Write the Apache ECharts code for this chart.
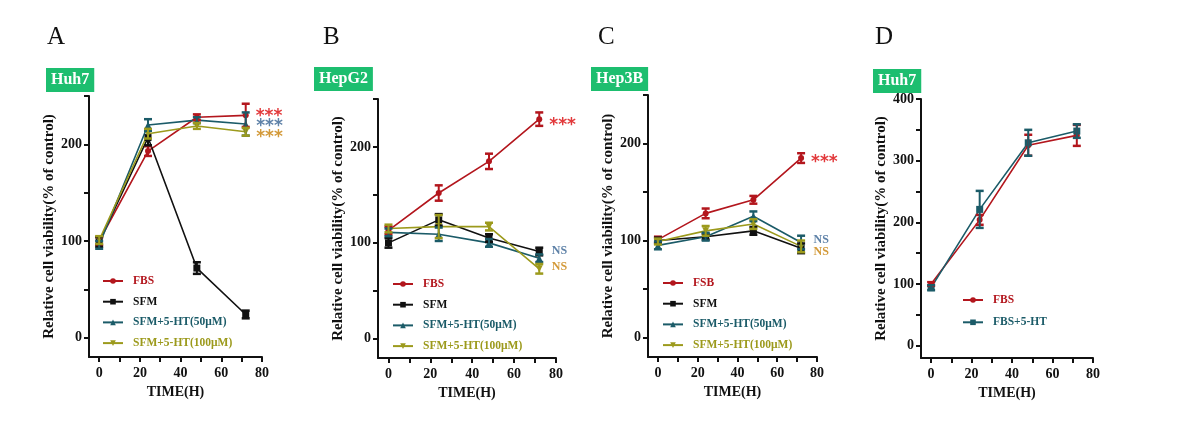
<!DOCTYPE html>
<html>
<head>
<meta charset="utf-8">
<script src="https://cdn.jsdelivr.net/npm/echarts@6/dist/echarts.min.js"></script>
<style>
html,body{margin:0;padding:0;background:#fff;}
#c{width:1200px;height:436px;}
</style>
</head>
<body>
<div id="c"></div>
<script>
// ---- data ----
const times = [0, 24, 48, 72];

// Panel A (Huh7)
const A_FBS = [100, 193, 228, 230];
const A_FBS_err = [4, 5, 3, 12];
const A_SFM = [99, 207, 72, 24];
const A_SFM_err = [5, 8, 6, 4];
const A_HT50 = [96, 220, 225, 221];
const A_HT50_err = [4, 6, 3, 12];
const A_HT100 = [101, 211, 219, 213];
const A_HT100_err = [4, 5, 3, 4];

// Panel B (HepG2)
const B_FBS = [113, 152, 185, 229];
const B_FBS_err = [4, 8, 8, 7];
const B_SFM = [100, 124, 105, 91];
const B_SFM_err = [5, 6, 4, 4];
const B_HT50 = [111, 109, 100, 84];
const B_HT50_err = [4, 7, 4, 4];
const B_HT100 = [115, 117, 117, 73];
const B_HT100_err = [4, 12, 4, 5];

// Panel C (Hep3B)
const C_FSB = [101, 128, 142, 185];
const C_FSB_err = [3, 5, 4, 5];
const C_SFM = [100, 104, 110, 92];
const C_SFM_err = [3, 3, 4, 5];
const C_HT50 = [95, 104, 125, 98];
const C_HT50_err = [4, 4, 5, 7];
const C_HT100 = [99, 110, 117, 94];
const C_HT100_err = [3, 5, 5, 6];

// Panel D (Huh7)
const D_FBS = [100, 204, 325, 341];
const D_FBS_err = [3, 8, 17, 17];
const D_HT = [94, 221, 329, 348];
const D_HT_err = [4, 30, 21, 11];

// ticks
const xTickVals = [0, 10, 20, 30, 40, 50, 60, 70, 80];
const xLabelVals = [0, 20, 40, 60, 80];
const yTickVals250 = [0, 50, 100, 150, 200, 250];
const yLabelVals250 = [0, 100, 200];
const yTickVals400 = [0, 50, 100, 150, 200, 250, 300, 350, 400];
const yLabelVals400 = [0, 100, 200, 300, 400];

const panelLetters = ['A', 'B', 'C', 'D'];
const cellNames = ['Huh7', 'HepG2', 'Hep3B', 'Huh7'];
const yName = 'Relative cell viability(% of control)';
const xName = 'TIME(H)';

// ---- styles ----
const RED = '#B3161D', BLACK = '#111111', TEAL = '#1B5B68', OLIVE = '#9C9A1C';
const STAR_RED = '#E23A3C', STAR_BLUE = '#5F82A8', STAR_ORANGE = '#D39A3A';
const GREEN = '#1DBE6F';
const FONT = 'Liberation Serif';

const grids = [
  {left: 89, right: 938, top: 96, bottom: 79},
  {left: 378, right: 644, top: 99, bottom: 78},
  {left: 648, right: 383, top: 95, bottom: 79},
  {left: 921, right: 107, top: 99, bottom: 78}
];

function xAxisFor(i) {
  return {
    gridIndex: i, type: 'value', min: -5, max: 80,
    name: xName, nameLocation: 'middle', nameGap: 27,
    nameTextStyle: {fontFamily: FONT, fontWeight: 'bold', fontSize: 14, color: '#111'},
    axisLine: {show: true, onZero: false, lineStyle: {color: '#111', width: 2}},
    axisTick: {show: true, length: 5, lineStyle: {color: '#111', width: 2}, customValues: xTickVals},
    axisLabel: {customValues: xLabelVals, margin: 9, fontFamily: FONT, fontWeight: 'bold', fontSize: 14, color: '#111'},
    splitLine: {show: false}
  };
}
function yAxisFor(i, max, ticks, labels) {
  return {
    gridIndex: i, type: 'value', min: -20, max: max,
    name: yName, nameLocation: 'middle', nameGap: 32,
    nameTextStyle: {fontFamily: FONT, fontWeight: 'bold', fontSize: 15, color: '#111'},
    axisLine: {show: true, onZero: false, lineStyle: {color: '#111', width: 2}},
    axisTick: {show: true, length: 5, lineStyle: {color: '#111', width: 2}, customValues: ticks},
    axisLabel: {customValues: labels, margin: 7, fontFamily: FONT, fontWeight: 'bold', fontSize: 14, color: '#111'},
    splitLine: {show: false}
  };
}

function errRender(color) {
  return function (params, api) {
    const x = api.value(0), y = api.value(1), e = api.value(2);
    const t = api.coord([x, y + e]), b = api.coord([x, y - e]);
    const w = 4;
    const st = {stroke: color, lineWidth: 2};
    return {type: 'group', children: [
      {type: 'line', shape: {x1: t[0], y1: t[1], x2: b[0], y2: b[1]}, style: st},
      {type: 'line', shape: {x1: t[0] - w, y1: t[1], x2: t[0] + w, y2: t[1]}, style: {stroke: color, lineWidth: 2.5}},
      {type: 'line', shape: {x1: b[0] - w, y1: b[1], x2: b[0] + w, y2: b[1]}, style: {stroke: color, lineWidth: 2.5}}
    ]};
  };
}

const series = [];
function addSeries(panel, name, vals, errs, color, symbol, annot) {
  const data = times.map((t, i) => {
    const item = {value: [t, vals[i]]};
    if (annot && i === times.length - 1) {
      item.label = {
        show: true, position: 'right', distance: annot.dist || 9,
        formatter: annot.text, color: annot.color,
        fontFamily: annot.font || FONT, fontWeight: 'bold', fontSize: annot.size || 13,
        offset: annot.offset || [0, 0]
      };
    }
    return item;
  });
  const sym = symbol === 'tridown' ? 'triangle' : symbol;
  series.push({
    type: 'line', name: name, xAxisIndex: panel, yAxisIndex: panel,
    data: data, symbol: sym, symbolRotate: symbol === 'tridown' ? 180 : 0,
    symbolSize: symbol === 'circle' ? 6 : 7,
    lineStyle: {color: color, width: 1.6}, itemStyle: {color: color},
    z: 3
  });
  series.push({
    type: 'custom', name: name + ' err', xAxisIndex: panel, yAxisIndex: panel,
    data: times.map((t, i) => [t, vals[i], errs[i]]),
    renderItem: errRender(color), z: 4, silent: true
  });
}

const stars = (c, off) => ({text: '***', color: c, size: 17, offset: off, font: 'DejaVu Sans', dist: 7});
const ns = (c, off) => ({text: 'NS', color: c, size: 12, offset: off});

// A
addSeries(0, 'FBS', A_FBS, A_FBS_err, RED, 'circle', stars(STAR_RED, [0, 1]));
addSeries(0, 'SFM', A_SFM, A_SFM_err, BLACK, 'rect');
addSeries(0, 'SFM+5-HT(50μM)', A_HT50, A_HT50_err, TEAL, 'triangle', stars(STAR_BLUE, [0, 3]));
addSeries(0, 'SFM+5-HT(100μM)', A_HT100, A_HT100_err, OLIVE, 'tridown', stars(STAR_ORANGE, [0, 6]));
// B
addSeries(1, 'FBS', B_FBS, B_FBS_err, RED, 'circle', stars(STAR_RED, [0, 6]));
addSeries(1, 'SFM', B_SFM, B_SFM_err, BLACK, 'rect', ns(STAR_BLUE, [0, -1]));
addSeries(1, 'SFM+5-HT(50μM)', B_HT50, B_HT50_err, TEAL, 'triangle');
addSeries(1, 'SFM+5-HT(100μM)', B_HT100, B_HT100_err, OLIVE, 'tridown', ns(STAR_ORANGE, [0, -2]));
// C
addSeries(2, 'FSB', C_FSB, C_FSB_err, RED, 'circle', stars(STAR_RED, [0, 5]));
addSeries(2, 'SFM', C_SFM, C_SFM_err, BLACK, 'rect');
addSeries(2, 'SFM+5-HT(50μM)', C_HT50, C_HT50_err, TEAL, 'triangle', ns(STAR_BLUE, [0, -3]));
addSeries(2, 'SFM+5-HT(100μM)', C_HT100, C_HT100_err, OLIVE, 'tridown', ns(STAR_ORANGE, [0, 6]));
// D
addSeries(3, 'FBS', D_FBS, D_FBS_err, RED, 'circle');
addSeries(3, 'FBS+5-HT', D_HT, D_HT_err, TEAL, 'rect');

function legendFor(left, top, names, colors, gap) {
  return {
    orient: 'vertical', left: left, top: top, padding: 0,
    itemWidth: 20, itemHeight: 7, itemGap: gap,
    data: names.map((n, i) => ({name: n, textStyle: {color: colors[i]}})),
    textStyle: {fontFamily: FONT, fontWeight: 'bold', fontSize: 11.5, padding: [0, 0, 0, 5]},
    selectedMode: false
  };
}
const fourNames = ['FBS', 'SFM', 'SFM+5-HT(50μM)', 'SFM+5-HT(100μM)'];
const fourColors = [RED, BLACK, TEAL, OLIVE];

const titles = [];
const letterX = [42, 318, 593, 870];
panelLetters.forEach((l, i) => titles.push({
  text: l, left: letterX[i], top: 20,
  textStyle: {fontFamily: FONT, fontWeight: 'normal', fontSize: 25, color: '#111'}
}));
const boxX = [46, 314, 591, 873];
const boxY = [68, 67, 67, 69];
cellNames.forEach((n, i) => titles.push({
  text: n, left: boxX[i], top: boxY[i], padding: [4, 5, 4, 5],
  backgroundColor: GREEN,
  textStyle: {fontFamily: FONT, fontWeight: 'bold', fontSize: 16, color: '#fff'}
}));

const option = {
  backgroundColor: '#fff',
  animation: false,
  title: titles,
  grid: grids,
  xAxis: [0, 1, 2, 3].map(xAxisFor),
  yAxis: [
    yAxisFor(0, 250, yTickVals250, yLabelVals250),
    yAxisFor(1, 250, yTickVals250, yLabelVals250),
    yAxisFor(2, 250, yTickVals250, yLabelVals250),
    yAxisFor(3, 400, yTickVals400, yLabelVals400)
  ],
  legend: [
    legendFor(102, 275, fourNames, fourColors, 8.7),
    legendFor(392, 278, fourNames, fourColors, 8.7),
    legendFor(662, 277, ['FSB', 'SFM', 'SFM+5-HT(50μM)', 'SFM+5-HT(100μM)'], fourColors, 8.7),
    legendFor(962, 294, ['FBS', 'FBS+5-HT'], [RED, TEAL], 10.3)
  ],
  series: series
};

const chart = echarts.init(document.getElementById('c'), null, {renderer: 'canvas'});
chart.setOption(option);
</script>
</body>
</html>
